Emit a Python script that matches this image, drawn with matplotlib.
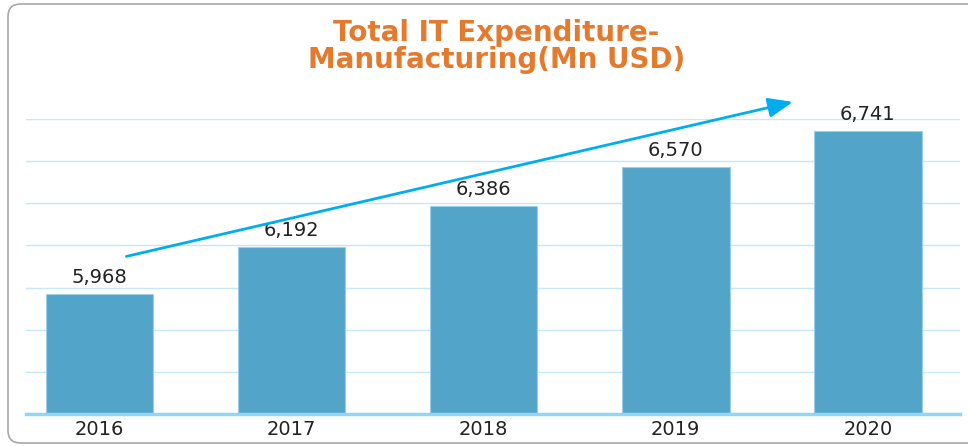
import numpy as np
import matplotlib.pyplot as plt
from matplotlib.patches import FancyBboxPatch

years = ['2016', '2017', '2018', '2019', '2020']
spend = [5968, 6192, 6386, 6570, 6741]
grid_ticks = list(range(5400, 6801, 200))

bar_color = '#52a5c9'
arrow_color = '#00aeef'
title_color = '#e37a2e'
text_color = '#222222'

fig = plt.figure(figsize=(9.68, 4.46), dpi=100)
ax = fig.add_axes([26/968, 32/446, 934/968, 295/446])

x = np.arange(len(years))
ax.bar(x, spend, width=0.56, color=bar_color, edgecolor='#9ad0ea', linewidth=0.8, zorder=2)

ax.set_xlim(-0.383, 4.48)
ax.set_ylim(5400, 6800)
ax.set_yticks(grid_ticks)
ax.yaxis.grid(True, color='#c6e7f5', linewidth=1, zorder=0)
ax.set_axisbelow(True)
ax.tick_params(axis='y', length=0, labelleft=False)
ax.set_xticks(x)
ax.set_xticklabels(years, fontsize=14, color=text_color, family='DejaVu Sans')
ax.tick_params(axis='x', length=0, pad=4)
for s in ['left', 'right', 'top']:
    ax.spines[s].set_visible(False)
ax.spines['bottom'].set_color('#93d5f3')
ax.spines['bottom'].set_linewidth(2.5)
ax.spines['bottom'].set_zorder(3)

# value labels
for xi, v in zip(x, spend):
    ax.annotate(f'{v:,}', (xi, v), xytext=(0, 8), textcoords='offset points',
                ha='center', va='baseline', fontsize=14, color=text_color,
                annotation_clip=False)

# trend arrow
ax.annotate('', xy=(x[-1] - 0.39, spend[-1] + 140), xytext=(x[0] + 0.14, spend[0] + 180),
            arrowprops=dict(arrowstyle='-|>,head_length=1.0,head_width=0.4',
                            color=arrow_color, lw=2, mutation_scale=15,
                            shrinkA=0, shrinkB=0),
            annotation_clip=False)

# title
fig.text(0.513, 1 - 41/446, 'Total IT Expenditure-', ha='center', va='baseline',
         fontsize=20, fontweight='bold', color=title_color)
fig.text(0.513, 1 - 68/446, 'Manufacturing(Mn USD)', ha='center', va='baseline',
         fontsize=20, fontweight='bold', color=title_color)

# rounded frame
frame = FancyBboxPatch((8/968, 3/446), 1.1, 439/446,
                       boxstyle='round,pad=0,rounding_size=0.013',
                       mutation_aspect=968/446, transform=fig.transFigure,
                       facecolor='none', edgecolor='#a8a8a8', linewidth=1.2)
fig.patches.append(frame)

fig.savefig('out.png', dpi=100)
